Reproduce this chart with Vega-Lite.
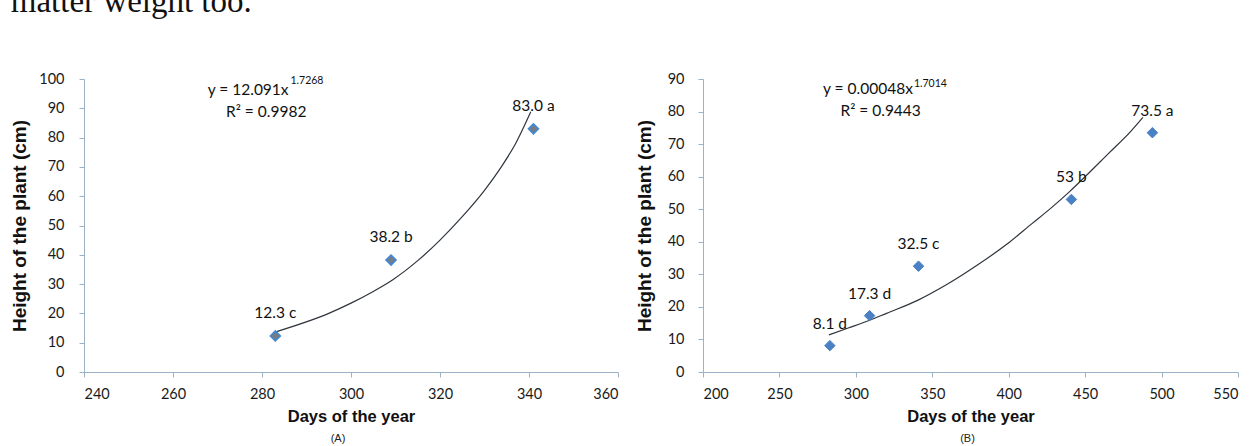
{
  "$schema": "https://vega.github.io/schema/vega-lite/v6.json",
  "background": "white",
  "padding": {"left": 10, "top": -14, "right": 4, "bottom": 0},
  "title": {"text": "matter weight too.", "anchor": "start", "frame": "bounds", "font": "Liberation Serif", "fontSize": 33, "fontWeight": "normal", "color": "#111", "offset": 52},
  "bounds": "flush",
  "spacing": 85,
  "datasets": {
    "ptsA": [
      {"day": 283, "height": 12.3, "label": "12.3 c"},
      {"day": 309, "height": 38.2, "label": "38.2 b"},
      {"day": 341, "height": 83.0, "label": "83.0 a"}
    ],
    "curveA": [
      {"day": 283.3, "height": 13.8},
      {"day": 295, "height": 20},
      {"day": 300, "height": 23.5},
      {"day": 305, "height": 27.5},
      {"day": 309.4, "height": 31.5},
      {"day": 315, "height": 38},
      {"day": 320, "height": 45},
      {"day": 325, "height": 53},
      {"day": 330, "height": 62},
      {"day": 334, "height": 70.5},
      {"day": 337, "height": 78},
      {"day": 340.4, "height": 88.8}
    ],
    "eqA": [
      {"day": 267.8, "height": 94.5, "text": "y = 12.091x", "kind": "main"},
      {"day": 286.4, "height": 98.3, "text": "1.7268", "kind": "sup"},
      {"day": 271.9, "height": 87.1, "text": "R² = 0.9982", "kind": "main"}
    ],
    "ptsB": [
      {"day": 283, "height": 8.1, "label": "8.1 d"},
      {"day": 309, "height": 17.3, "label": "17.3 d"},
      {"day": 341, "height": 32.5, "label": "32.5 c"},
      {"day": 441, "height": 53, "label": "53 b"},
      {"day": 494, "height": 73.5, "label": "73.5 a"}
    ],
    "curveB": [
      {"day": 282.4, "height": 11.4},
      {"day": 295, "height": 13.5},
      {"day": 308.6, "height": 15.8},
      {"day": 320, "height": 18},
      {"day": 340.4, "height": 22},
      {"day": 360, "height": 27},
      {"day": 380, "height": 33},
      {"day": 398.9, "height": 39.3},
      {"day": 415, "height": 45.5},
      {"day": 428, "height": 50.5},
      {"day": 440, "height": 55.5},
      {"day": 450, "height": 60},
      {"day": 465, "height": 67},
      {"day": 480, "height": 74},
      {"day": 487.8, "height": 78.2}
    ],
    "eqB": [
      {"day": 278.5, "height": 85.4, "text": "y = 0.00048x", "kind": "main"},
      {"day": 338, "height": 87.4, "text": "1.7014", "kind": "sup"},
      {"day": 289.9, "height": 78.7, "text": "R² = 0.9443", "kind": "main"}
    ]
  },
  "hconcat": [
    {
      "width": 534,
      "height": 293,
      "title": {"text": "(A)", "orient": "bottom", "font": "Liberation Sans", "fontSize": 11, "fontWeight": "normal", "color": "#222", "offset": 8, "dx": -13},
      "encoding": {
        "x": {"field": "day", "type": "quantitative", "scale": {"domain": [240, 360], "nice": false},
              "axis": {"title": "Days of the year", "values": [240, 260, 280, 300, 320, 340, 360]}},
        "y": {"field": "height", "type": "quantitative", "scale": {"domain": [0, 100], "nice": false},
              "axis": {"title": "Height of the plant (cm)", "values": [0, 10, 20, 30, 40, 50, 60, 70, 80, 90, 100], "labelPadding": 15, "titlePadding": 9, "titleFontSize": 19}}
      },
      "layer": [
        {"data": {"name": "curveA"}, "mark": {"type": "line", "interpolate": "monotone", "color": "#2f353d", "strokeWidth": 1.2}},
        {"data": {"name": "ptsA"}, "mark": {"type": "point", "shape": "diamond", "filled": true, "size": 100, "fill": "#767c85", "stroke": "#3e8ad6", "strokeWidth": 1.6, "opacity": 1}},
        {"data": {"name": "ptsA"}, "mark": {"type": "text", "dy": -18, "baseline": "alphabetic", "fontSize": 15.5, "color": "#111"}, "encoding": {"text": {"field": "label"}}},
        {"data": {"name": "eqA"}, "transform": [{"filter": "datum.kind == 'main'"}], "mark": {"type": "text", "align": "left", "baseline": "alphabetic", "fontSize": 15.5, "color": "#111"}, "encoding": {"text": {"field": "text"}}},
        {"data": {"name": "eqA"}, "transform": [{"filter": "datum.kind == 'sup'"}], "mark": {"type": "text", "align": "left", "baseline": "alphabetic", "fontSize": 10.5, "color": "#111"}, "encoding": {"text": {"field": "text"}}}
      ]
    },
    {
      "width": 535,
      "height": 293,
      "title": {"text": "(B)", "orient": "bottom", "font": "Liberation Sans", "fontSize": 11, "fontWeight": "normal", "color": "#222", "offset": 8, "dx": -3},
      "encoding": {
        "x": {"field": "day", "type": "quantitative", "scale": {"domain": [200, 550], "nice": false},
              "axis": {"title": "Days of the year", "values": [200, 250, 300, 350, 400, 450, 500, 550]}},
        "y": {"field": "height", "type": "quantitative", "scale": {"domain": [0, 90], "nice": false},
              "axis": {"title": "Height of the plant (cm)", "values": [0, 10, 20, 30, 40, 50, 60, 70, 80, 90], "labelPadding": 14, "titlePadding": 13, "titleFontSize": 19}}
      },
      "layer": [
        {"data": {"name": "curveB"}, "mark": {"type": "line", "interpolate": "monotone", "color": "#2f353d", "strokeWidth": 1.2}},
        {"data": {"name": "ptsB"}, "mark": {"type": "point", "shape": "diamond", "filled": true, "size": 110, "fill": "#4a80c4", "stroke": "#4a80c4", "strokeWidth": 1, "opacity": 1}},
        {"data": {"name": "ptsB"}, "mark": {"type": "text", "dy": -17, "baseline": "alphabetic", "fontSize": 15.5, "color": "#111"}, "encoding": {"text": {"field": "label"}}},
        {"data": {"name": "eqB"}, "transform": [{"filter": "datum.kind == 'main'"}], "mark": {"type": "text", "align": "left", "baseline": "alphabetic", "fontSize": 15.5, "color": "#111"}, "encoding": {"text": {"field": "text"}}},
        {"data": {"name": "eqB"}, "transform": [{"filter": "datum.kind == 'sup'"}], "mark": {"type": "text", "align": "left", "baseline": "alphabetic", "fontSize": 10.5, "color": "#111"}, "encoding": {"text": {"field": "text"}}}
      ]
    }
  ],
  "config": {
    "view": {"stroke": null},
    "font": "Lato",
    "text": {"font": "Lato"},
    "axis": {
      "grid": false,
      "domainColor": "#9db1c6",
      "tickColor": "#9db1c6",
      "tickSize": 5,
      "labelFont": "Lato",
      "labelFontSize": 14.5,
      "labelColor": "#1a1a1a",
      "labelPadding": 10,
      "titleFont": "Liberation Sans",
      "titleFontWeight": "bold",
      "titleFontSize": 16.5,
      "titleColor": "#111",
      "titlePadding": 8
    }
  }
}
